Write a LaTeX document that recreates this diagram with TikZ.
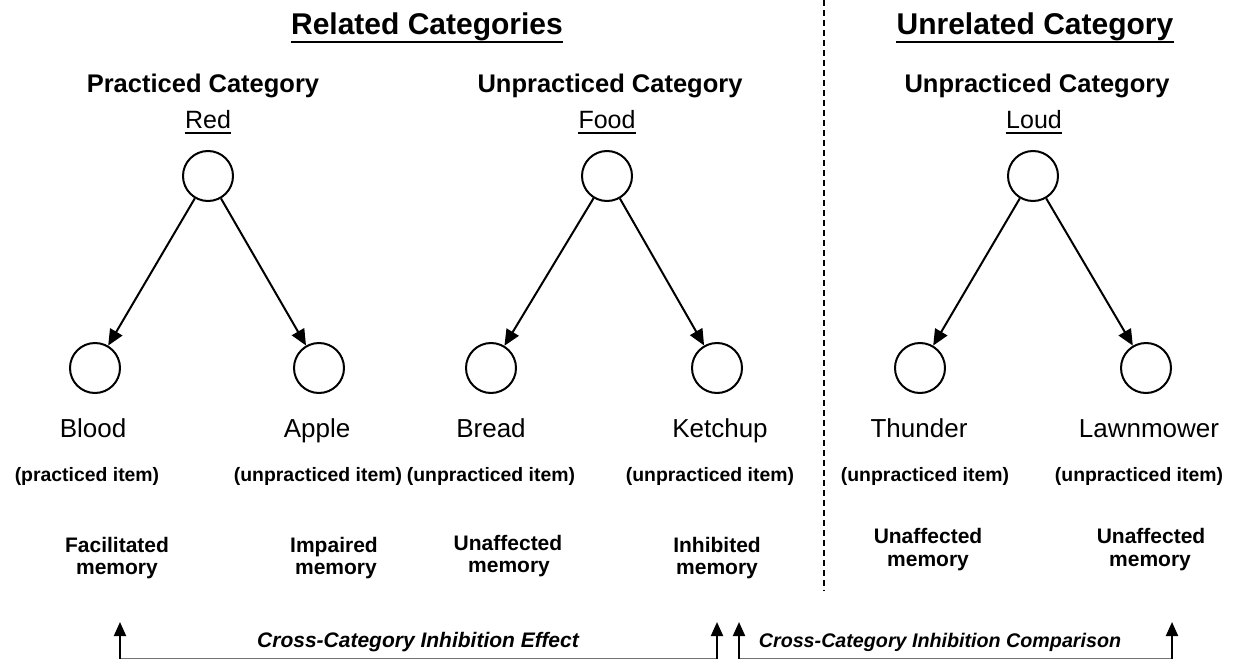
\documentclass[tikz,border=0pt]{standalone}
\usepackage{fontspec}
\setmainfont{Liberation Sans}
\usetikzlibrary{arrows.meta}
\begin{document}
\begin{tikzpicture}[x=0.5pt,y=-0.5pt,
  title/.style={font=\fontsize{15}{18}\selectfont\bfseries, inner sep=0pt, anchor=base},
  cathead/.style={font=\fontsize{12.75}{15}\selectfont\bfseries, inner sep=0pt, anchor=base},
  catname/.style={font=\fontsize{12.5}{15}\selectfont, inner sep=0pt, anchor=base},
  itemname/.style={font=\fontsize{13}{15}\selectfont, inner sep=0pt, anchor=base},
  itemkind/.style={font=\fontsize{9.7}{12}\selectfont\bfseries, inner sep=0pt, anchor=base},
  memlab/.style={font=\fontsize{10.5}{12}\selectfont\bfseries, inner sep=0pt, anchor=base},
  crosslab/.style={font=\fontsize{10.5}{12}\selectfont\bfseries\itshape, inner sep=0pt, anchor=base},
  concept/.style={circle, draw, line width=1pt, minimum size=25pt, inner sep=0pt},
  link/.style={-{Triangle[length=8pt,width=7pt]}, line width=1pt},
  uparrow/.style={-{Triangle[length=7pt,width=6pt]}, line width=1pt},
  bigline/.style={line width=1.25pt},
  smallline/.style={line width=0.75pt},
  divider/.style={line width=1pt, dash pattern=on 3pt off 2pt},
  bracketline/.style={line width=1pt, draw=black!55}
]
\useasboundingbox (0,0) rectangle (1246,658);

% titles
\node[title] (rel) at (427,35) {Related Categories};
\node[title] (unrel) at (1035,35) {Unrelated Category};
\draw[bigline] ([yshift=-3.5pt]rel.base west) -- ([yshift=-3.5pt]rel.base east);
\draw[bigline] ([yshift=-3.5pt]unrel.base west) -- ([yshift=-3.5pt]unrel.base east);

% divider
\coordinate (dtop) at (824,0);
\coordinate (dbot) at (824,591);
\draw[divider] (dtop) -- (dbot);

% category headings
\node[cathead] (pc) at (203,93) {Practiced Category};
\node[cathead] (uc1) at (610,93) {Unpracticed Category};
\node[cathead] (uc2) at (1037,93) {Unpracticed Category};

\node[catname] (red) at (208,128) {Red};
\node[catname] (food) at (607,128) {Food};
\node[catname] (loud) at (1034,128) {Loud};
\draw[smallline] ([yshift=-2.5pt]red.base west) -- ([yshift=-2.5pt]red.base east);
\draw[smallline] ([yshift=-2.5pt]food.base west) -- ([yshift=-2.5pt]food.base east);
\draw[smallline] ([yshift=-2.5pt]loud.base west) -- ([yshift=-2.5pt]loud.base east);

% concept circles
\node[concept] (tr) at (208,176) {};
\node[concept] (tf) at (607,176) {};
\node[concept] (tl) at (1033,176) {};
\node[concept] (b1) at (95,368) {};
\node[concept] (b2) at (319,368) {};
\node[concept] (b3) at (491,368) {};
\node[concept] (b4) at (717,368) {};
\node[concept] (b5) at (920,368) {};
\node[concept] (b6) at (1146,368) {};

\draw[link] (tr) -- (b1);
\draw[link] (tr) -- (b2);
\draw[link] (tf) -- (b3);
\draw[link] (tf) -- (b4);
\draw[link] (tl) -- (b5);
\draw[link] (tl) -- (b6);

% item names
\node[itemname] (n1) at (93,437) {Blood};
\node[itemname] (n2) at (317,437) {Apple};
\node[itemname] (n3) at (491,437) {Bread};
\node[itemname] (n4) at (720,437) {Ketchup};
\node[itemname] (n5) at (919,437) {Thunder};
\node[itemname] (n6) at (1149,437) {Lawnmower};

% item kinds
\node[itemkind] (k1) at (87,481) {(practiced item)};
\node[itemkind] (k2) at (318,481) {(unpracticed item)};
\node[itemkind] (k3) at (491,481) {(unpracticed item)};
\node[itemkind] (k4) at (710,481) {(unpracticed item)};
\node[itemkind] (k5) at (925,481) {(unpracticed item)};
\node[itemkind] (k6) at (1139,481) {(unpracticed item)};

% memory effects
\node[memlab] (m1a) at (117,552) {Facilitated};
\node[memlab] (m1b) at (117,574) {memory};
\node[memlab] (m2a) at (334,552) {Impaired};
\node[memlab] (m2b) at (336,574) {memory};
\node[memlab] (m3a) at (508,550) {Unaffected};
\node[memlab] (m3b) at (509,572) {memory};
\node[memlab] (m4a) at (717,552) {Inhibited};
\node[memlab] (m4b) at (717,574) {memory};
\node[memlab] (m5a) at (928,543) {Unaffected};
\node[memlab] (m5b) at (928,566) {memory};
\node[memlab] (m6a) at (1151,543) {Unaffected};
\node[memlab] (m6b) at (1150,566) {memory};

% comparison brackets (cut off at the bottom)
\coordinate (a1) at (120,659);
\coordinate (a2) at (717,659);
\coordinate (a3) at (739,659);
\coordinate (a4) at (1172,659);
\coordinate (t1) at (120,622);
\coordinate (t2) at (717,622);
\coordinate (t3) at (739,622);
\coordinate (t4) at (1172,622);
\draw[bracketline] (a1) -- (a2);
\draw[bracketline] (a3) -- (a4);
\draw[uparrow] (a1) -- (t1);
\draw[uparrow] (a2) -- (t2);
\draw[uparrow] (a3) -- (t3);
\draw[uparrow] (a4) -- (t4);

\node[crosslab] (ce) at (418,647) {Cross-Category Inhibition Effect};
\node[crosslab, font=\fontsize{9.85}{12}\selectfont\bfseries\itshape] (cc) at (940,647) {Cross-Category Inhibition Comparison};
\end{tikzpicture}
\end{document}
